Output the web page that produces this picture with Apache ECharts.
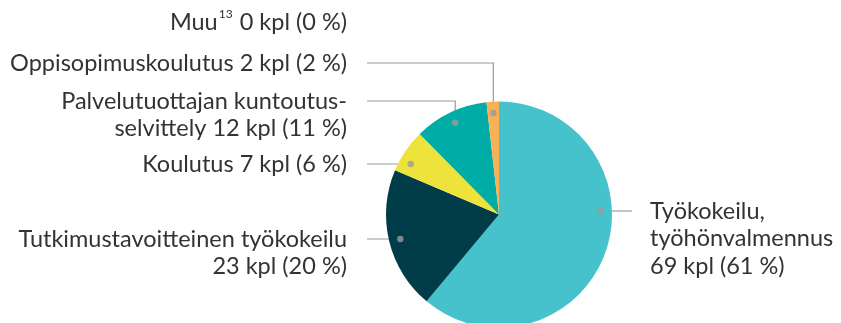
<!DOCTYPE html>
<html>
<head>
<meta charset="utf-8">
<script src="https://cdn.jsdelivr.net/npm/echarts@6/dist/echarts.min.js"></script>
<style>
  html, body { margin: 0; padding: 0; background: #fff; }
  #chart { width: 841px; height: 323px; }
</style>
</head>
<body>
<div id="chart"></div>
<script>
// data
const categories = ["Työkokeilu, työhönvalmennus", "Tutkimustavoitteinen työkokeilu", "Koulutus",
  "Palvelutuottajan kuntoutusselvittely", "Oppisopimuskoulutus", "Muu"];
const counts = [69, 23, 7, 12, 2, 0];
const percents = [61, 20, 6, 11, 2, 0];
const labelNames = ["Työkokeilu,\ntyöhönvalmennus\n", "Tutkimustavoitteinen työkokeilu\n", "Koulutus ",
  "Palvelutuottajan kuntoutus-\nselvittely ", "Oppisopimuskoulutus ", "Muu{sup|13} "];
const colors = ["#45c2cc", "#013c49", "#ede33b", "#00aca6", "#f8b155", "#999999"];

// layout
const cx = 499, cy = 214.5, R = 113, dotR = 0.9 * R;
const labelLineY = [211, 239, 164, 101, 63, 22];
const labelSide = [1, -1, -1, -1, -1, -1];
const leftTextX = 347, leftLineX = 367, rightTextX = 650, rightLineX = 632;
const lineH = 27.5;

// angle (clockwise from top) where each label line starts inside its slice
const total = counts.reduce((a, b) => a + b, 0);
let acc = 0;
const anchorAngles = counts.map((v, i) => {
  const a0 = acc / total * 360;
  acc += v;
  const a1 = acc / total * 360;
  let ang = (a0 + a1) / 2;
  const dy = labelLineY[i] - cy;
  if (Math.abs(dy) < dotR) {
    const dx = labelSide[i] * Math.sqrt(dotR * dotR - dy * dy);
    let a = Math.atan2(dx, -dy) * 180 / Math.PI;
    if (a < 0) a += 360;
    if (a >= a0 && a <= a1) ang = a;
  }
  return ang;
});
function anchorPx(i) {
  const r = anchorAngles[i] * Math.PI / 180;
  return [cx + dotR * Math.sin(r), cy - dotR * Math.cos(r)];
}

const chart = echarts.init(document.getElementById("chart"));
const font = "Lato";
chart.setOption({
  backgroundColor: "#ffffff",
  animation: false,
  polar: { center: [cx, cy], radius: R },
  angleAxis: { type: "value", min: 0, max: 360, startAngle: 90, clockwise: true, show: false },
  radiusAxis: { type: "value", min: 0, max: 1, show: false },
  series: [
    {
      type: "pie",
      center: [cx, cy],
      radius: R,
      startAngle: 90,
      clockwise: true,
      avoidLabelOverlap: false,
      data: categories.map((name, i) => ({
        name: name,
        value: counts[i],
        itemStyle: { color: colors[i] },
        labelLine: { show: counts[i] > 0 }
      })),
      label: {
        show: true,
        color: "#333333",
        fontFamily: font,
        fontSize: 23.5,
        lineHeight: lineH,
        formatter: (p) => labelNames[p.dataIndex] + counts[p.dataIndex] + " kpl (" + percents[p.dataIndex] + " %)",
        rich: {
          sup: { fontFamily: font, fontSize: 12, color: "#333333", padding: [0, 1, 9, 1], verticalAlign: "top", lineHeight: lineH }
        }
      },
      labelLine: { show: true, lineStyle: { color: "#9b9b9b", width: 1.2 } },
      labelLayout: (params) => {
        const i = params.dataIndex;
        const right = labelSide[i] > 0;
        const ly = labelLineY[i];
        const out = {
          x: right ? rightTextX : leftTextX,
          y: ly - lineH / 2,
          align: right ? "left" : "right",
          verticalAlign: "top"
        };
        if (counts[i] > 0) {
          const p = anchorPx(i);
          out.labelLinePoints = [p, [p[0], ly], [right ? rightLineX : leftLineX, ly]];
        }
        return out;
      },
      emphasis: { disabled: true }
    },
    {
      type: "scatter",
      coordinateSystem: "polar",
      symbolSize: 6.5,
      z: 5,
      itemStyle: { color: "#9b9b9b" },
      silent: true,
      data: anchorAngles.filter((a, i) => counts[i] > 0).map((a) => [0.9, a])
    }
  ]
});
</script>
</body>
</html>
